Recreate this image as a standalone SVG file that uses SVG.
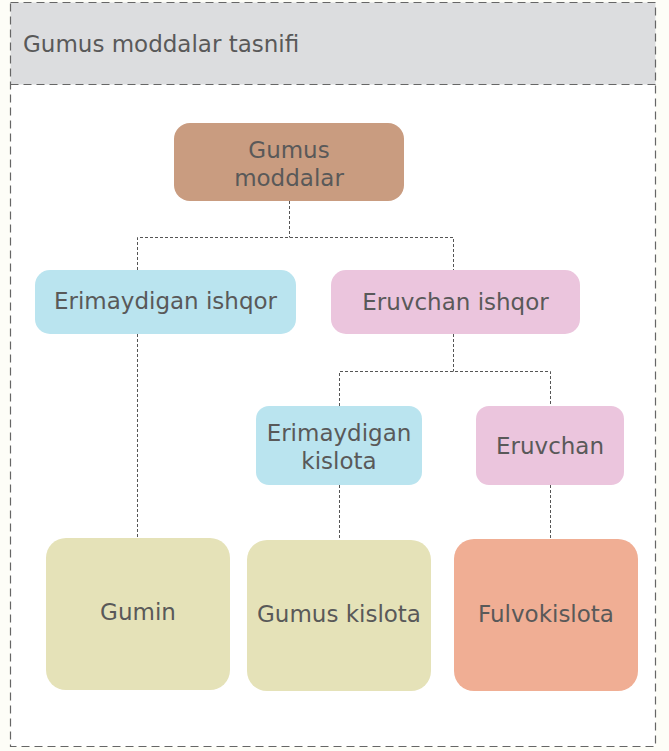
<svg xmlns="http://www.w3.org/2000/svg" width="669" height="751" viewBox="0 0 669 751">
<style>
.t{font-family:"DejaVu Sans","Liberation Sans",sans-serif;font-size:23px;fill:#595959;text-anchor:middle;dominant-baseline:central}
.c{fill:none;stroke:#555;stroke-width:1;stroke-dasharray:3,2}
.blue{fill:#bae4ef}.pink{fill:#ebc5dd}.olive{fill:#e5e2b8}
</style>
<rect x="0" y="0" width="669" height="751" fill="#fdfdf7"/>
<rect x="10.5" y="2.5" width="645" height="744" fill="#fff"/>
<rect x="10.5" y="2.5" width="645" height="82" fill="#dcdddf"/>
<rect x="10.5" y="2.5" width="645" height="744" fill="none" stroke="#666" stroke-width="1.2" stroke-dasharray="8,5"/>
<line x1="10.5" y1="84.5" x2="655.5" y2="84.5" stroke="#666" stroke-width="1.2" stroke-dasharray="8,5"/>
<text x="23" y="44" class="t" style="text-anchor:start">Gumus moddalar tasnifi</text>
<g id="connectors">
<path class="c" d="M289.5 201V237.5M137.5 270V237.5H453.5V270"/>
<path class="c" d="M137.5 334V538"/>
<path class="c" d="M453.5 334V371.5M339.5 406V371.5H550.5V406"/>
<path class="c" d="M339.5 485V540M550.5 485V540"/>
</g>
<g id="gumus-moddalar"><rect x="174" y="123" width="230" height="78" rx="16" fill="#c99c80"/><text class="t" x="289" y="150">Gumus</text><text class="t" x="289" y="178">moddalar</text></g>
<g id="erimaydigan-ishqor"><rect class="blue" x="35" y="270" width="261" height="64" rx="15"/><text class="t" x="165.5" y="301">Erimaydigan ishqor</text></g>
<g id="eruvchan-ishqor"><rect class="pink" x="331" y="270" width="249" height="64" rx="15"/><text class="t" x="455.5" y="302">Eruvchan ishqor</text></g>
<g id="erimaydigan-kislota"><rect class="blue" x="256" y="406" width="166" height="79" rx="13"/><text class="t" x="339" y="433">Erimaydigan</text><text class="t" x="339" y="461">kislota</text></g>
<g id="eruvchan"><rect class="pink" x="476" y="406" width="148" height="79" rx="13"/><text class="t" x="550" y="446">Eruvchan</text></g>
<g id="gumin"><rect class="olive" x="46" y="538" width="184" height="152" rx="20"/><text class="t" x="138" y="612">Gumin</text></g>
<g id="gumus-kislota"><rect class="olive" x="247" y="540" width="184" height="151" rx="20"/><text class="t" x="339" y="614">Gumus kislota</text></g>
<g id="fulvokislota"><rect x="454" y="539" width="184" height="152" rx="20" fill="#f0ae94"/><text class="t" x="546" y="614">Fulvokislota</text></g>
</svg>
